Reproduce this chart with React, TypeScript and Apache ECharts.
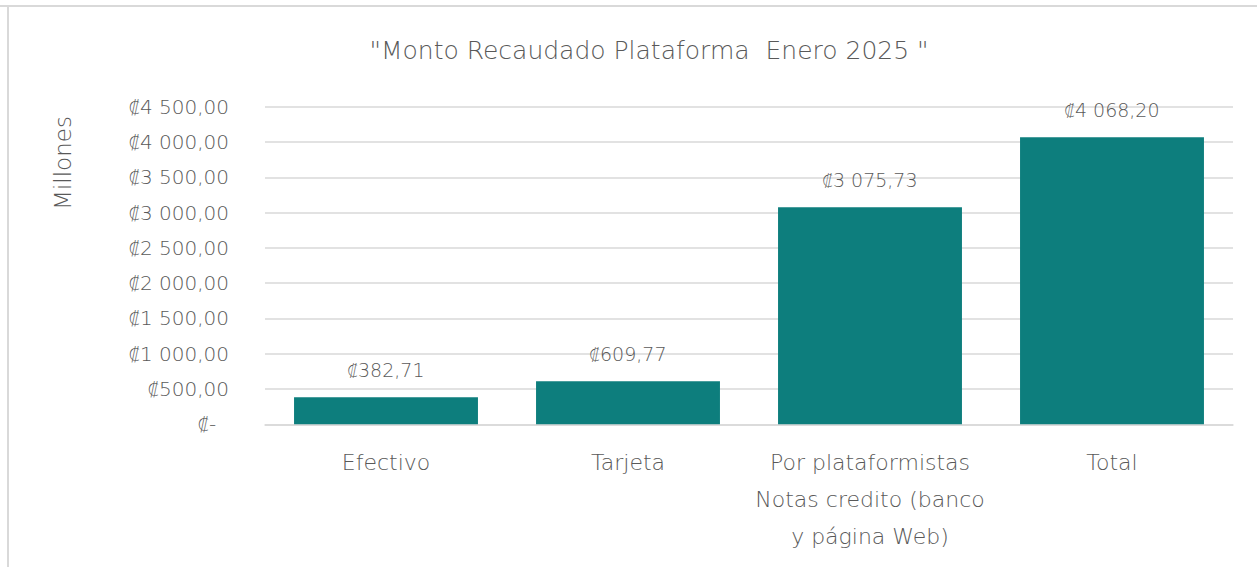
import React, { useEffect, useRef } from "react";
import * as echarts from "echarts";

const categories = [
  "Efectivo",
  "Tarjeta",
  "Por plataformistas\nNotas credito (banco\ny página Web)",
  "Total",
];
const values = [382.71, 609.77, 3075.73, 4068.2];
const titleText = '"Monto Recaudado Plataforma  Enero 2025 "';
const yAxisName = "Millones";
const yMin = 0;
const yMax = 4500;
const yInterval = 500;

const FONT = "'DejaVu Sans', 'Noto Sans', 'Open Sans', sans-serif";
const W = 200;
const GRAY = "#595959";

function fmt(v: number): string {
  const [intPart, dec] = v.toFixed(2).split(".");
  const withSep = intPart.replace(/\B(?=(\d{3})+(?!\d))/g, " ");
  return "₡" + withSep + "," + dec;
}

export default function App() {
  const ref = useRef<HTMLDivElement>(null);
  useEffect(() => {
    if (!ref.current) return;
    const chart = echarts.init(ref.current, undefined, { renderer: "svg" });
    chart.setOption({
      animation: false,
      backgroundColor: "#ffffff",
      textStyle: { fontFamily: FONT },
      grid: { left: 265, right: 24, top: 106.7, bottom: 142.7, containLabel: false },
      graphic: [
        { type: "rect", shape: { x: 0, y: 5, width: 1257, height: 2 }, style: { fill: "#d9d9d9" } },
        { type: "rect", shape: { x: 7, y: 5, width: 2, height: 562 }, style: { fill: "#d9d9d9" } },
        {
          type: "text",
          x: 649,
          y: 50,
          style: {
            text: titleText,
            fill: GRAY,
            font: `${W} 25px ${FONT}`,
            textAlign: "center",
            textVerticalAlign: "middle",
          },
        },
        {
          type: "text",
          x: 63,
          y: 163,
          rotation: Math.PI / 2,
          style: {
            text: yAxisName,
            fill: GRAY,
            font: `${W} 23px ${FONT}`,
            textAlign: "center",
            textVerticalAlign: "middle",
          },
        },
      ],
      xAxis: {
        type: "category",
        data: categories,
        axisTick: { show: false },
        axisLine: { show: true, lineStyle: { color: "#d9d9d9", width: 1.5 } },
        axisLabel: {
          color: GRAY,
          fontSize: 22,
          fontWeight: W,
          fontFamily: FONT,
          lineHeight: 37,
          margin: 20,
          interval: 0,
        },
      },
      yAxis: {
        type: "value",
        min: yMin,
        max: yMax,
        interval: yInterval,
        axisLine: { show: false },
        axisTick: { show: false },
        splitLine: { lineStyle: { color: "#d9d9d9", width: 1.5 } },
        axisLabel: {
          color: GRAY,
          fontSize: 20,
          fontWeight: W,
          fontFamily: FONT,
          margin: 36,
          align: "right",
          formatter: (v: number) => (v === 0 ? "₡-  " : fmt(v)),
        },
      },
      series: [
        {
          type: "bar",
          data: values,
          barCategoryGap: "24%",
          itemStyle: { color: "#0d7e7d" },
          label: {
            show: true,
            position: "top",
            distance: 17,
            color: GRAY,
            fontSize: 19,
            fontWeight: W,
            fontFamily: FONT,
            lineHeight: 20,
            formatter: (p: any) => fmt(p.value),
          },
        },
      ],
    });
    return () => chart.dispose();
  }, []);
  return (
    <div
      ref={ref}
      style={{ position: "absolute", left: 0, top: 0, width: 1257, height: 567 }}
    />
  );
}
